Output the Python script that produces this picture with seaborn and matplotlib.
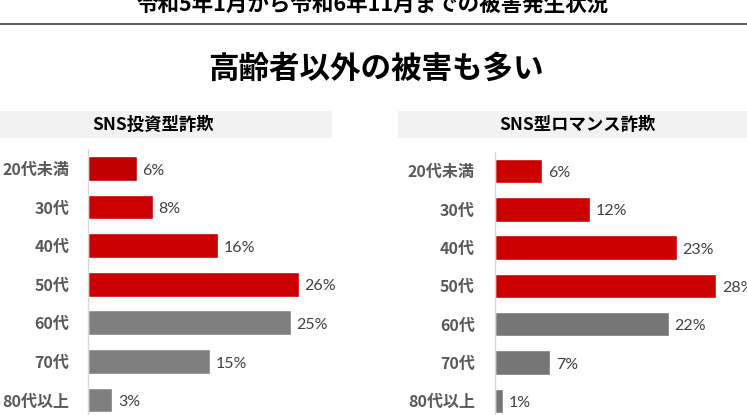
import pandas as pd
import matplotlib
matplotlib.use("Agg")
import matplotlib.pyplot as plt
import seaborn as sns
from matplotlib.patches import Rectangle

# data
ages = ["20代未満", "30代", "40代", "50代", "60代", "70代", "80代以上"]
invest_pct = [6, 8, 16, 26, 25, 15, 3]
romance_pct = [6, 12, 23, 28, 22, 7, 1]
invest_colors = ["#c00000", "#cc0000", "#cc0000", "#cc0000", "#7f7f7f", "#7f7f7f", "#7f7f7f"]
romance_colors = ["#cc0000", "#cc0000", "#cc0000", "#cc0000", "#767676", "#767676", "#767676"]

top_title = "令和5年1月から令和6年11月までの被害発生状況"
main_title = "高齢者以外の被害も多い"
panel_titles = ["SNS投資型詐欺", "SNS型ロマンス詐欺"]

sns.set_style("white")
plt.rcParams['font.family'] = ['Noto Sans CJK JP', 'DejaVu Sans']

W, H = 747, 415
fig = plt.figure(figsize=(W / 100, H / 100), dpi=100)


def px_axes(left, top, right, bottom):
    return fig.add_axes([left / W, 1 - bottom / H, (right - left) / W, (bottom - top) / H])


def draw_panel(ax, values, colors, xmax, pad):
    df = pd.DataFrame({"age": ages, "pct": values})
    sns.barplot(df, x="pct", y="age", hue="age", palette=dict(zip(ages, colors)),
                legend=False, orient="h", width=0.64, ax=ax, saturation=1)
    ax.set_xlim(0, xmax)
    ax.set_ylim(6.5, -0.5)
    ax.set_xlabel("")
    ax.set_ylabel("")
    ax.set_xticks([])
    for s in ["top", "right", "bottom"]:
        ax.spines[s].set_visible(False)
    ax.spines["left"].set_color("#d9d9d9")
    ax.spines["left"].set_linewidth(1)
    ax.tick_params(axis="y", length=0, pad=pad)
    for lab in ax.get_yticklabels():
        lab.set_fontsize(11.5)
        lab.set_fontweight("bold")
        lab.set_color("#595959")
    for cont in ax.containers:
        anns = ax.bar_label(cont, labels=[f"{v:g}%" for v in cont.datavalues],
                            padding=4, fontsize=11.5, color="#404040",
                            family=["Lato", "DejaVu Sans"])
        for a in anns:
            a.xyann = (4, -1.5)


ax1 = px_axes(88, 149.2, 332, 419.3)
draw_panel(ax1, invest_pct, invest_colors, 244 / 8.12, 13.5)

ax2 = px_axes(495, 151.8, 747, 420)
draw_panel(ax2, romance_pct, romance_colors, 252 / 7.9, 14.5)

# header boxes
fig.patches.append(Rectangle((0, 1 - 138.5 / H), 332 / W, 27.5 / H, transform=fig.transFigure,
                             facecolor="#f2f2f2", edgecolor="none", zorder=0))
fig.patches.append(Rectangle((398 / W, 1 - 138.5 / H), 349 / W, 27.5 / H, transform=fig.transFigure,
                             facecolor="#f2f2f2", edgecolor="none", zorder=0))
fig.text(153.5 / W, 1 - 124.5 / H, panel_titles[0], ha="center", va="center",
         fontsize=12.5, fontweight="bold", color="black")
fig.text(577 / W, 1 - 124.5 / H, panel_titles[1], ha="center", va="center",
         fontsize=12.5, fontweight="bold", color="black")

# titles and separator line (top title is cut at the upper edge in the source too)
fig.text(373 / W, 1 - 4 / H, top_title, ha="center", va="center",
         fontsize=15.5, fontweight="bold", color="black")
fig.add_artist(plt.Line2D([0, 1], [1 - 24 / H, 1 - 24 / H], transform=fig.transFigure,
                          color="#404040", linewidth=1.2))
fig.text(376 / W, 1 - 68.5 / H, main_title, ha="center", va="center",
         fontsize=22, fontweight="bold", color="black")

fig.savefig("out.png", dpi=100)
